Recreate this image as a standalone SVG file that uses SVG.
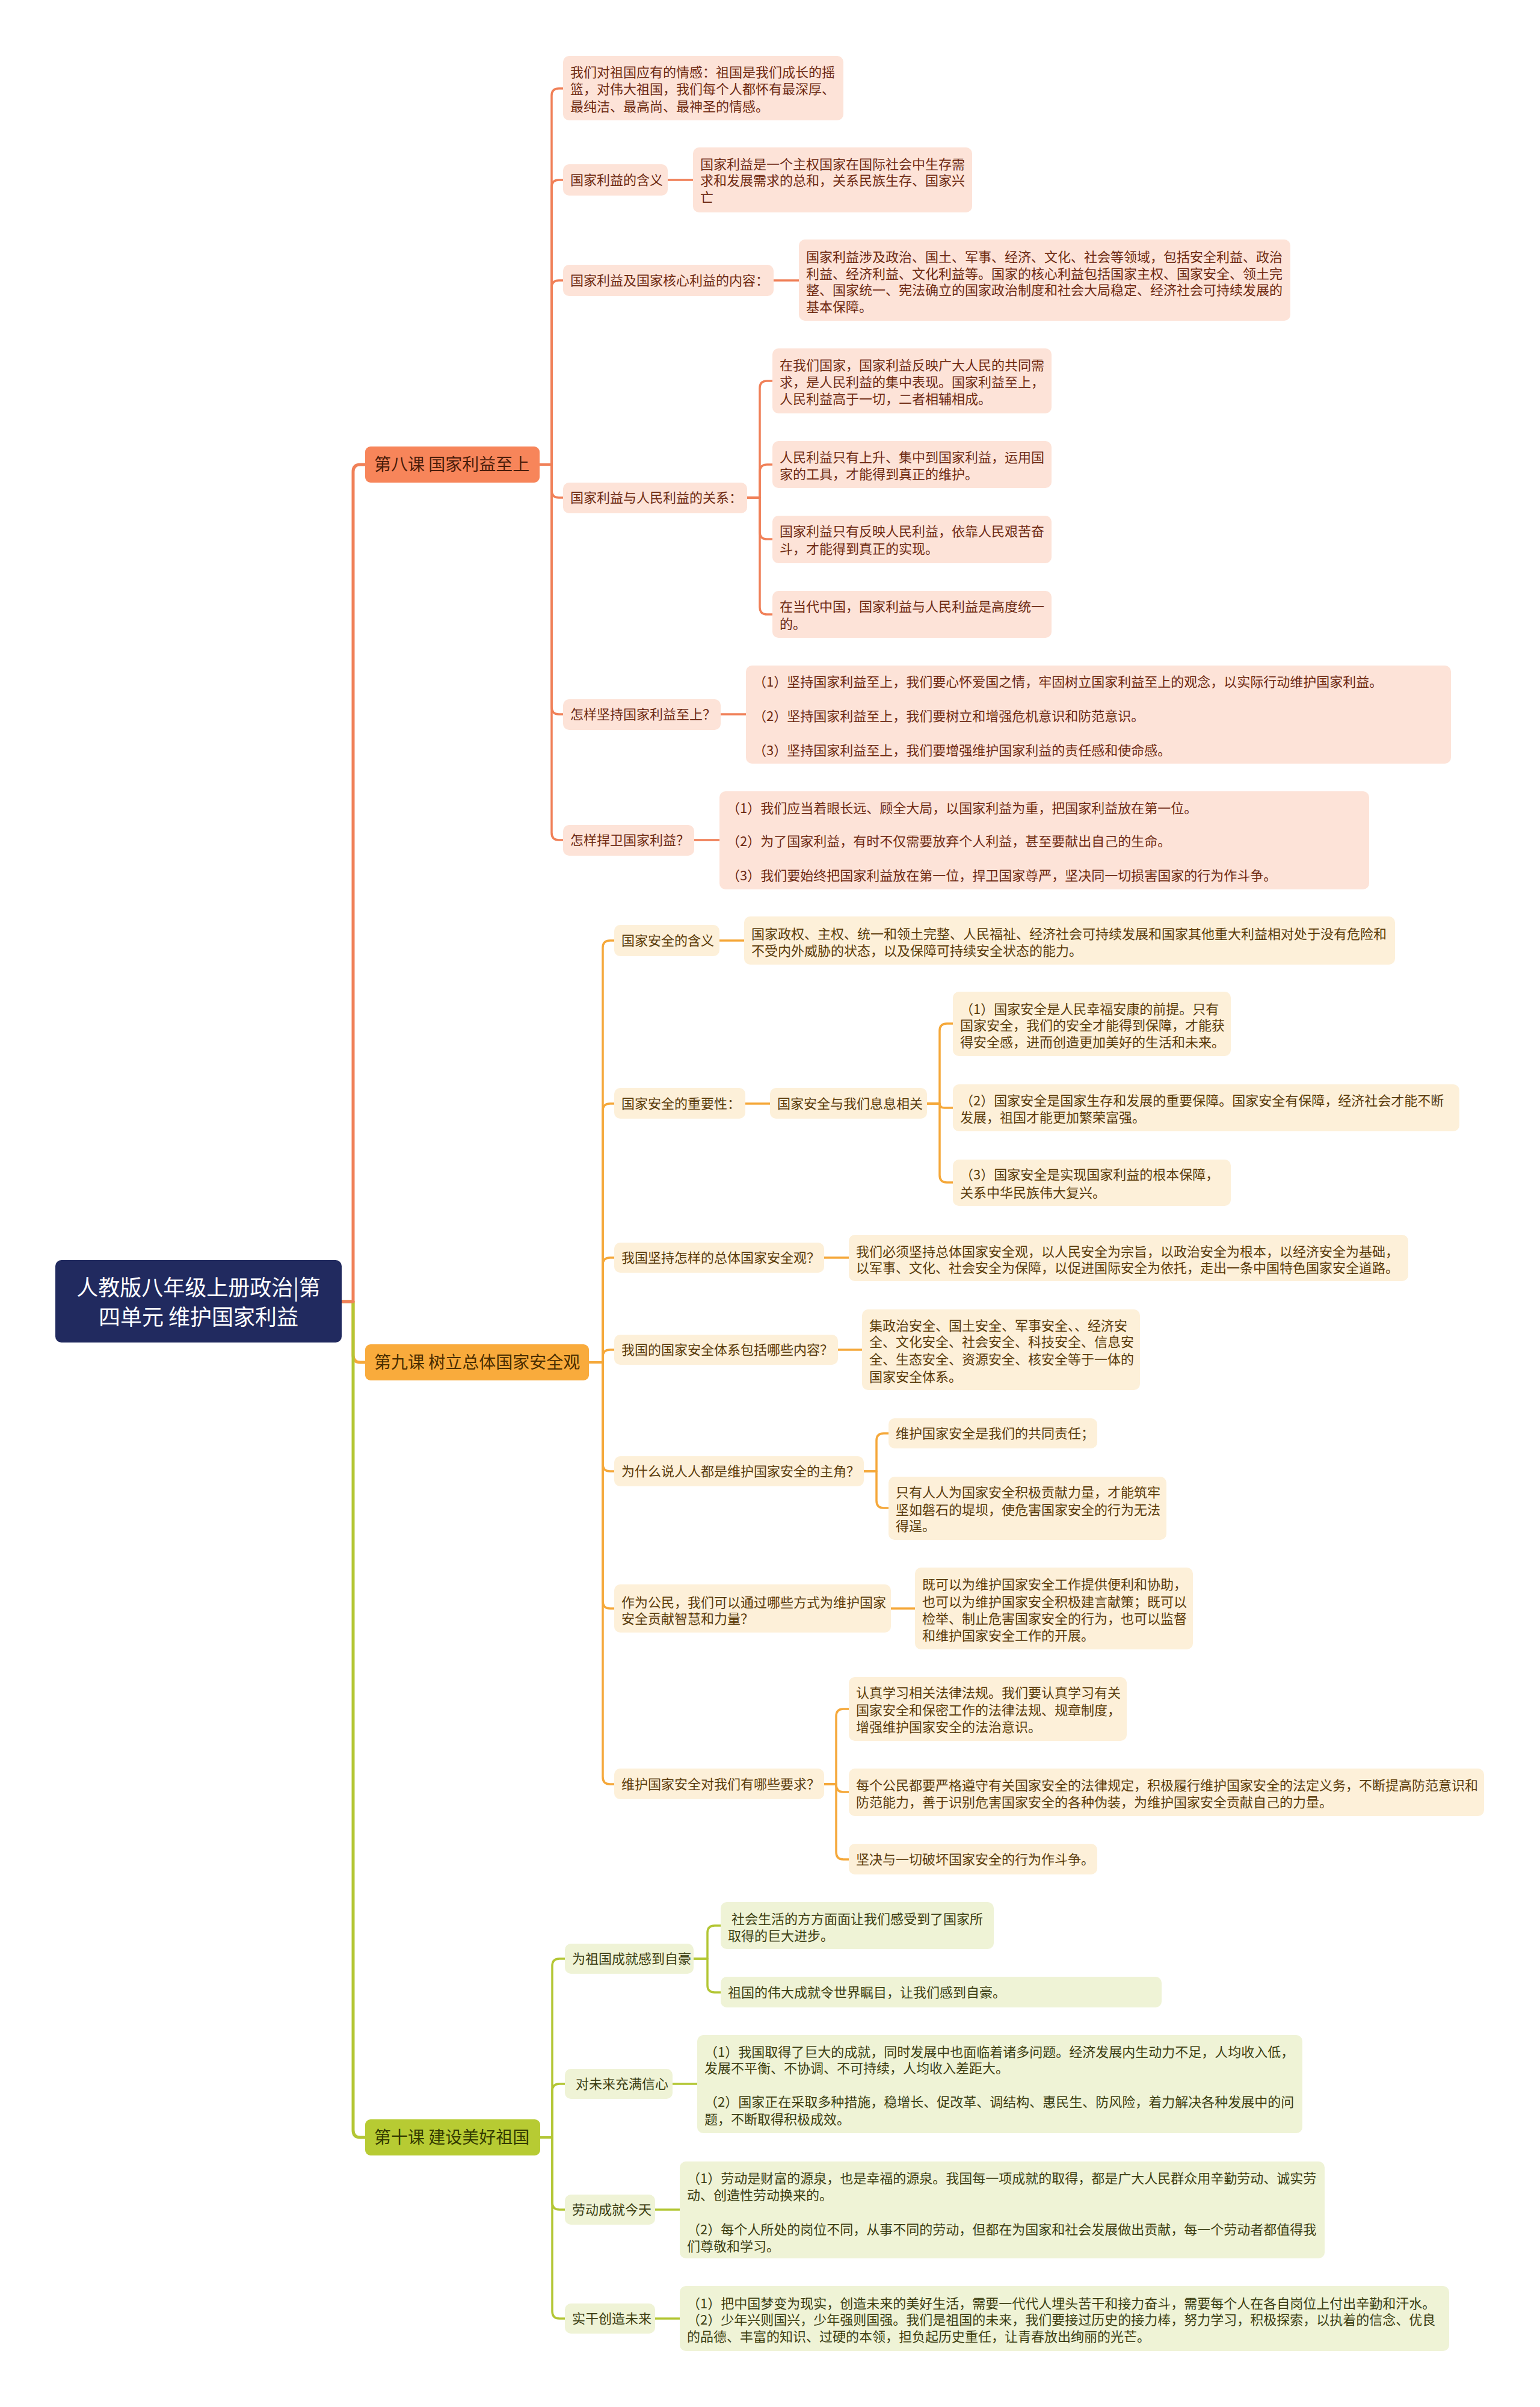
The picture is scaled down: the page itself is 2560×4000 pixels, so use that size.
<svg xmlns="http://www.w3.org/2000/svg" width="2560" height="4000" viewBox="0 0 2560 4000">
<style>
text{font-family:"Noto Sans CJK SC","Noto Sans",sans-serif;}
.t{font-size:22px;}
.h{font-size:28px;}
.r{font-size:36px;fill:#ffffff;}
.l8 rect{fill:#fde3d8;} .l8 text{fill:#6e2a12;}
.l9 rect{fill:#fdf0d9;} .l9 text{fill:#5a3b0a;}
.l10 rect{fill:#eff3d6;} .l10 text{fill:#3c3e12;}
.c{fill:none;stroke-linecap:round;stroke-linejoin:round;}
.c8{stroke:#f08058;stroke-width:3.5;}
.c9{stroke:#f5a83a;stroke-width:3.5;}
.c10{stroke:#b3c634;stroke-width:3.5;}
.w{stroke-width:5;}
</style>
<rect width="2560" height="4000" fill="#ffffff"/>
<g id="connectors">
<path class="c c9 w" d="M568,2163 H587 V2252 Q587,2264 599,2264 H607"/>
<path class="c c10 w" d="M568,2163 H587 V3540 Q587,3552 599,3552 H607"/>
<path class="c c8 w" d="M568,2163 H587 V784 Q587,772 599,772 H607"/>
<!-- lesson 8 -->
<path class="c c8" d="M897,772 H917 V159 Q917,147 929,147 H936"/>
<path class="c c8" d="M897,772 H917 V311 Q917,299 929,299 H936"/>
<path class="c c8" d="M897,772 H917 V478 Q917,466 929,466 H936"/>
<path class="c c8" d="M897,772 H917 V815 Q917,827 929,827 H936"/>
<path class="c c8" d="M897,772 H917 V1175 Q917,1187 929,1187 H936"/>
<path class="c c8" d="M897,772 H917 V1384 Q917,1396 929,1396 H936"/>
<path class="c c8" d="M1110,299 H1152"/>
<path class="c c8" d="M1286,466 H1328"/>
<path class="c c8" d="M1242,827 H1263 V645 Q1263,633 1275,633 H1284"/>
<path class="c c8" d="M1242,827 H1263 V784 Q1263,772 1275,772 H1284"/>
<path class="c c8" d="M1242,827 H1263 V884 Q1263,896 1275,896 H1284"/>
<path class="c c8" d="M1242,827 H1263 V1009 Q1263,1021 1275,1021 H1284"/>
<path class="c c8" d="M1198,1187 H1240"/>
<path class="c c8" d="M1154,1396 H1196"/>
<!-- lesson 9 -->
<path class="c c9" d="M979,2264 H1002 V1575 Q1002,1563 1014,1563 H1021"/>
<path class="c c9" d="M979,2264 H1002 V1846 Q1002,1834 1014,1834 H1021"/>
<path class="c c9" d="M979,2264 H1002 V2102 Q1002,2090 1014,2090 H1021"/>
<path class="c c9" d="M979,2264 H1002 V2255 Q1002,2243 1014,2243 H1021"/>
<path class="c c9" d="M979,2264 H1002 V2433 Q1002,2445 1014,2445 H1021"/>
<path class="c c9" d="M979,2264 H1002 V2661 Q1002,2673 1014,2673 H1021"/>
<path class="c c9" d="M979,2264 H1002 V2953 Q1002,2965 1014,2965 H1021"/>
<path class="c c9" d="M1196,1563 H1237"/>
<path class="c c9" d="M1239,1834 H1280"/>
<path class="c c9" d="M1541,1834 H1562 V1713 Q1562,1701 1574,1701 H1584"/>
<path class="c c9" d="M1541,1834 H1562 Q1562,1841 1570,1841 H1584"/>
<path class="c c9" d="M1541,1834 H1562 V1953 Q1562,1965 1574,1965 H1584"/>
<path class="c c9" d="M1370,2090 H1411"/>
<path class="c c9" d="M1393,2243 H1433"/>
<path class="c c9" d="M1436,2445 H1457 V2394 Q1457,2382 1469,2382 H1477"/>
<path class="c c9" d="M1436,2445 H1457 V2494 Q1457,2506 1469,2506 H1477"/>
<path class="c c9" d="M1479,2673 H1521"/>
<path class="c c9" d="M1370,2965 H1390 V2852 Q1390,2840 1402,2840 H1411"/>
<path class="c c9" d="M1370,2965 H1390 V2966 Q1390,2978 1402,2978 H1411"/>
<path class="c c9" d="M1370,2965 H1390 V3078 Q1390,3090 1402,3090 H1411"/>
<!-- lesson 10 -->
<path class="c c10" d="M898,3552 H918 V3267 Q918,3255 930,3255 H939"/>
<path class="c c10" d="M898,3552 H918 V3475 Q918,3463 930,3463 H939"/>
<path class="c c10" d="M898,3552 H918 V3660 Q918,3672 930,3672 H939"/>
<path class="c c10" d="M898,3552 H918 V3841 Q918,3853 930,3853 H939"/>
<path class="c c10" d="M1153,3255 H1176 V3212 Q1176,3200 1188,3200 H1198"/>
<path class="c c10" d="M1153,3255 H1176 V3299 Q1176,3311 1188,3311 H1198"/>
<path class="c c10" d="M1118,3463 H1159"/>
<path class="c c10" d="M1089,3672 H1130"/>
<path class="c c10" d="M1089,3853 H1130"/>
</g>

<g id="root">
<rect x="92" y="2094" width="476" height="137" rx="10" fill="#212a5f"/>
<text class="r" x="330" y="2153" text-anchor="middle">人教版八年级上册政治|第</text>
<text class="r" x="330" y="2202" text-anchor="middle">四单元 维护国家利益</text>
</g>

<g id="lesson8">
<rect x="607" y="742" width="290" height="60" rx="9" fill="#f7855a"/>
<text class="h" x="622" y="782" fill="#4a1c0a">第八课 国家利益至上</text>
</g>
<g id="lesson9">
<rect x="607" y="2234" width="372" height="60" rx="9" fill="#f9ab3c"/>
<text class="h" x="622" y="2274" fill="#4a2e00">第九课 树立总体国家安全观</text>
</g>
<g id="lesson10">
<rect x="607" y="3522" width="291" height="60" rx="9" fill="#b7cb33"/>
<text class="h" x="622" y="3562" fill="#333a00">第十课 建设美好祖国</text>
</g>

<!-- lesson 8 nodes -->
<g id="n8-1" class="l8">
<rect x="936" y="93" width="466" height="107" rx="10"/>
<text class="t" x="948" y="128">我们对祖国应有的情感：祖国是我们成长的摇</text>
<text class="t" x="948" y="156">篮，对伟大祖国，我们每个人都怀有最深厚、</text>
<text class="t" x="948" y="185">最纯洁、最高尚、最神圣的情感。</text>
</g>
<g id="n8-2" class="l8">
<rect x="936" y="273" width="174" height="52" rx="10"/>
<text class="t" x="948" y="307">国家利益的含义</text>
</g>
<g id="n8-2a" class="l8">
<rect x="1152" y="245" width="464" height="108" rx="10"/>
<text class="t" x="1164" y="281">国家利益是一个主权国家在国际社会中生存需</text>
<text class="t" x="1164" y="308">求和发展需求的总和，关系民族生存、国家兴</text>
<text class="t" x="1164" y="336">亡</text>
</g>
<g id="n8-3" class="l8">
<rect x="936" y="440" width="350" height="52" rx="10"/>
<text class="t" x="948" y="474">国家利益及国家核心利益的内容：</text>
</g>
<g id="n8-3a" class="l8">
<rect x="1328" y="398" width="817" height="135" rx="10"/>
<text class="t" x="1340" y="435">国家利益涉及政治、国土、军事、经济、文化、社会等领域，包括安全利益、政治</text>
<text class="t" x="1340" y="463">利益、经济利益、文化利益等。国家的核心利益包括国家主权、国家安全、领土完</text>
<text class="t" x="1340" y="490">整、国家统一、宪法确立的国家政治制度和社会大局稳定、经济社会可持续发展的</text>
<text class="t" x="1340" y="518">基本保障。</text>
</g>
<g id="n8-4" class="l8">
<rect x="936" y="802" width="306" height="51" rx="10"/>
<text class="t" x="948" y="835">国家利益与人民利益的关系：</text>
</g>
<g id="n8-4a" class="l8">
<rect x="1284" y="579" width="464" height="108" rx="10"/>
<text class="t" x="1296" y="615">在我们国家，国家利益反映广大人民的共同需</text>
<text class="t" x="1296" y="643">求，是人民利益的集中表现。国家利益至上，</text>
<text class="t" x="1296" y="671">人民利益高于一切，二者相辅相成。</text>
</g>
<g id="n8-4b" class="l8">
<rect x="1284" y="733" width="464" height="78" rx="10"/>
<text class="t" x="1296" y="768">人民利益只有上升、集中到国家利益，运用国</text>
<text class="t" x="1296" y="796">家的工具，才能得到真正的维护。</text>
</g>
<g id="n8-4c" class="l8">
<rect x="1284" y="857" width="464" height="79" rx="10"/>
<text class="t" x="1296" y="891">国家利益只有反映人民利益，依靠人民艰苦奋</text>
<text class="t" x="1296" y="920">斗，才能得到真正的实现。</text>
</g>
<g id="n8-4d" class="l8">
<rect x="1284" y="982" width="464" height="78" rx="10"/>
<text class="t" x="1296" y="1016">在当代中国，国家利益与人民利益是高度统一</text>
<text class="t" x="1296" y="1045">的。</text>
</g>
<g id="n8-5" class="l8">
<rect x="936" y="1162" width="262" height="51" rx="10"/>
<text class="t" x="948" y="1195">怎样坚持国家利益至上？</text>
</g>
<g id="n8-5a" class="l8">
<rect x="1240" y="1106" width="1172" height="163" rx="10"/>
<text class="t" x="1252" y="1141">（1）坚持国家利益至上，我们要心怀爱国之情，牢固树立国家利益至上的观念，以实际行动维护国家利益。</text>
<text class="t" x="1252" y="1198">（2）坚持国家利益至上，我们要树立和增强危机意识和防范意识。</text>
<text class="t" x="1252" y="1255">（3）坚持国家利益至上，我们要增强维护国家利益的责任感和使命感。</text>
</g>
<g id="n8-6" class="l8">
<rect x="936" y="1371" width="218" height="51" rx="10"/>
<text class="t" x="948" y="1404">怎样捍卫国家利益？</text>
</g>
<g id="n8-6a" class="l8">
<rect x="1196" y="1315" width="1080" height="163" rx="10"/>
<text class="t" x="1208" y="1351">（1）我们应当着眼长远、顾全大局，以国家利益为重，把国家利益放在第一位。</text>
<text class="t" x="1208" y="1406">（2）为了国家利益，有时不仅需要放弃个人利益，甚至要献出自己的生命。</text>
<text class="t" x="1208" y="1463">（3）我们要始终把国家利益放在第一位，捍卫国家尊严，坚决同一切损害国家的行为作斗争。</text>
</g>

<!-- lesson 9 nodes -->
<g id="n9-1" class="l9">
<rect x="1021" y="1537" width="175" height="52" rx="10"/>
<text class="t" x="1033" y="1571">国家安全的含义</text>
</g>
<g id="n9-1a" class="l9">
<rect x="1237" y="1523" width="1082" height="80" rx="10"/>
<text class="t" x="1249" y="1560">国家政权、主权、统一和领土完整、人民福祉、经济社会可持续发展和国家其他重大利益相对处于没有危险和</text>
<text class="t" x="1249" y="1588">不受内外威胁的状态，以及保障可持续安全状态的能力。</text>
</g>
<g id="n9-2" class="l9">
<rect x="1021" y="1808" width="218" height="51" rx="10"/>
<text class="t" x="1033" y="1842">国家安全的重要性：</text>
</g>
<g id="n9-2m" class="l9">
<rect x="1280" y="1808" width="261" height="51" rx="10"/>
<text class="t" x="1292" y="1842">国家安全与我们息息相关</text>
</g>
<g id="n9-2a" class="l9">
<rect x="1584" y="1648" width="462" height="107" rx="10"/>
<text class="t" x="1596" y="1685">（1）国家安全是人民幸福安康的前提。只有</text>
<text class="t" x="1596" y="1712">国家安全，我们的安全才能得到保障，才能获</text>
<text class="t" x="1596" y="1740">得安全感，进而创造更加美好的生活和未来。</text>
</g>
<g id="n9-2b" class="l9">
<rect x="1584" y="1802" width="842" height="78" rx="10"/>
<text class="t" x="1596" y="1837">（2）国家安全是国家生存和发展的重要保障。国家安全有保障，经济社会才能不断</text>
<text class="t" x="1596" y="1865">发展，祖国才能更加繁荣富强。</text>
</g>
<g id="n9-2c" class="l9">
<rect x="1584" y="1927" width="462" height="77" rx="10"/>
<text class="t" x="1596" y="1960">（3）国家安全是实现国家利益的根本保障，</text>
<text class="t" x="1596" y="1990">关系中华民族伟大复兴。</text>
</g>
<g id="n9-3" class="l9">
<rect x="1021" y="2065" width="349" height="50" rx="10"/>
<text class="t" x="1033" y="2098">我国坚持怎样的总体国家安全观？</text>
</g>
<g id="n9-3a" class="l9">
<rect x="1411" y="2052" width="930" height="77" rx="10"/>
<text class="t" x="1423" y="2088">我们必须坚持总体国家安全观，以人民安全为宗旨，以政治安全为根本，以经济安全为基础，</text>
<text class="t" x="1423" y="2115">以军事、文化、社会安全为保障，以促进国际安全为依托，走出一条中国特色国家安全道路。</text>
</g>
<g id="n9-4" class="l9">
<rect x="1021" y="2218" width="372" height="50" rx="10"/>
<text class="t" x="1033" y="2251">我国的国家安全体系包括哪些内容？</text>
</g>
<g id="n9-4a" class="l9">
<rect x="1433" y="2176" width="462" height="134" rx="10"/>
<text class="t" x="1445" y="2211">集政治安全、国土安全、军事安全、、经济安</text>
<text class="t" x="1445" y="2238">全、文化安全、社会安全、科技安全、信息安</text>
<text class="t" x="1445" y="2267">全、生态安全、资源安全、核安全等于一体的</text>
<text class="t" x="1445" y="2296">国家安全体系。</text>
</g>
<g id="n9-5" class="l9">
<rect x="1021" y="2420" width="415" height="50" rx="10"/>
<text class="t" x="1033" y="2453">为什么说人人都是维护国家安全的主角？</text>
</g>
<g id="n9-5a" class="l9">
<rect x="1477" y="2357" width="347" height="50" rx="10"/>
<text class="t" x="1489" y="2390">维护国家安全是我们的共同责任；</text>
</g>
<g id="n9-5b" class="l9">
<rect x="1477" y="2454" width="462" height="105" rx="10"/>
<text class="t" x="1489" y="2488">只有人人为国家安全积极贡献力量，才能筑牢</text>
<text class="t" x="1489" y="2517">坚如磐石的堤坝，使危害国家安全的行为无法</text>
<text class="t" x="1489" y="2544">得逞。</text>
</g>
<g id="n9-6" class="l9">
<rect x="1021" y="2633" width="460" height="80" rx="10"/>
<text class="t" x="1033" y="2671">作为公民，我们可以通过哪些方式为维护国家</text>
<text class="t" x="1033" y="2698">安全贡献智慧和力量？</text>
</g>
<g id="n9-6a" class="l9">
<rect x="1521" y="2605" width="462" height="136" rx="10"/>
<text class="t" x="1533" y="2641">既可以为维护国家安全工作提供便利和协助，</text>
<text class="t" x="1533" y="2670">也可以为维护国家安全积极建言献策；既可以</text>
<text class="t" x="1533" y="2698">检举、制止危害国家安全的行为，也可以监督</text>
<text class="t" x="1533" y="2726">和维护国家安全工作的开展。</text>
</g>
<g id="n9-7" class="l9">
<rect x="1021" y="2939" width="349" height="51" rx="10"/>
<text class="t" x="1033" y="2973">维护国家安全对我们有哪些要求？</text>
</g>
<g id="n9-7a" class="l9">
<rect x="1411" y="2787" width="462" height="106" rx="10"/>
<text class="t" x="1423" y="2821">认真学习相关法律法规。我们要认真学习有关</text>
<text class="t" x="1423" y="2850">国家安全和保密工作的法律法规、规章制度，</text>
<text class="t" x="1423" y="2878">增强维护国家安全的法治意识。</text>
</g>
<g id="n9-7b" class="l9">
<rect x="1411" y="2939" width="1056" height="79" rx="10"/>
<text class="t" x="1423" y="2975">每个公民都要严格遵守有关国家安全的法律规定，积极履行维护国家安全的法定义务，不断提高防范意识和</text>
<text class="t" x="1423" y="3003">防范能力，善于识别危害国家安全的各种伪装，为维护国家安全贡献自己的力量。</text>
</g>
<g id="n9-7c" class="l9">
<rect x="1411" y="3064" width="413" height="51" rx="10"/>
<text class="t" x="1423" y="3098">坚决与一切破坏国家安全的行为作斗争。</text>
</g>

<!-- lesson 10 nodes -->
<g id="n10-1" class="l10">
<rect x="939" y="3230" width="214" height="50" rx="10"/>
<text class="t" x="951" y="3263">为祖国成就感到自豪</text>
</g>
<g id="n10-1a" class="l10">
<rect x="1198" y="3161" width="454" height="78" rx="10"/>
<text class="t" x="1216" y="3197">社会生活的方方面面让我们感受到了国家所</text>
<text class="t" x="1210" y="3225">取得的巨大进步。</text>
</g>
<g id="n10-1b" class="l10">
<rect x="1198" y="3285" width="733" height="51" rx="10"/>
<text class="t" x="1210" y="3319">祖国的伟大成就令世界瞩目，让我们感到自豪。</text>
</g>
<g id="n10-2" class="l10">
<rect x="939" y="3438" width="179" height="50" rx="10"/>
<text class="t" x="957" y="3471">对未来充满信心</text>
</g>
<g id="n10-2a" class="l10">
<rect x="1159" y="3382" width="1006" height="163" rx="10"/>
<text class="t" x="1171" y="3418">（1）我国取得了巨大的成就，同时发展中也面临着诸多问题。经济发展内生动力不足，人均收入低，</text>
<text class="t" x="1171" y="3445">发展不平衡、不协调、不可持续，人均收入差距大。</text>
<text class="t" x="1171" y="3501">（2）国家正在采取多种措施，稳增长、促改革、调结构、惠民生、防风险，着力解决各种发展中的问</text>
<text class="t" x="1171" y="3530">题，不断取得积极成效。</text>
</g>
<g id="n10-3" class="l10">
<rect x="939" y="3647" width="150" height="50" rx="10"/>
<text class="t" x="951" y="3680">劳动成就今天</text>
</g>
<g id="n10-3a" class="l10">
<rect x="1130" y="3592" width="1072" height="161" rx="10"/>
<text class="t" x="1142" y="3628">（1）劳动是财富的源泉，也是幸福的源泉。我国每一项成就的取得，都是广大人民群众用辛勤劳动、诚实劳</text>
<text class="t" x="1142" y="3656">动、创造性劳动换来的。</text>
<text class="t" x="1142" y="3713">（2）每个人所处的岗位不同，从事不同的劳动，但都在为国家和社会发展做出贡献，每一个劳动者都值得我</text>
<text class="t" x="1142" y="3741">们尊敬和学习。</text>
</g>
<g id="n10-4" class="l10">
<rect x="939" y="3828" width="150" height="50" rx="10"/>
<text class="t" x="951" y="3861">实干创造未来</text>
</g>
<g id="n10-4a" class="l10">
<rect x="1130" y="3799" width="1279" height="108" rx="10"/>
<text class="t" x="1142" y="3836">（1）把中国梦变为现实，创造未来的美好生活，需要一代代人埋头苦干和接力奋斗，需要每个人在各自岗位上付出辛勤和汗水。</text>
<text class="t" x="1142" y="3863">（2）少年兴则国兴，少年强则国强。我们是祖国的未来，我们要接过历史的接力棒，努力学习，积极探索，以执着的信念、优良</text>
<text class="t" x="1142" y="3891">的品德、丰富的知识、过硬的本领，担负起历史重任，让青春放出绚丽的光芒。</text>
</g>
</svg>
